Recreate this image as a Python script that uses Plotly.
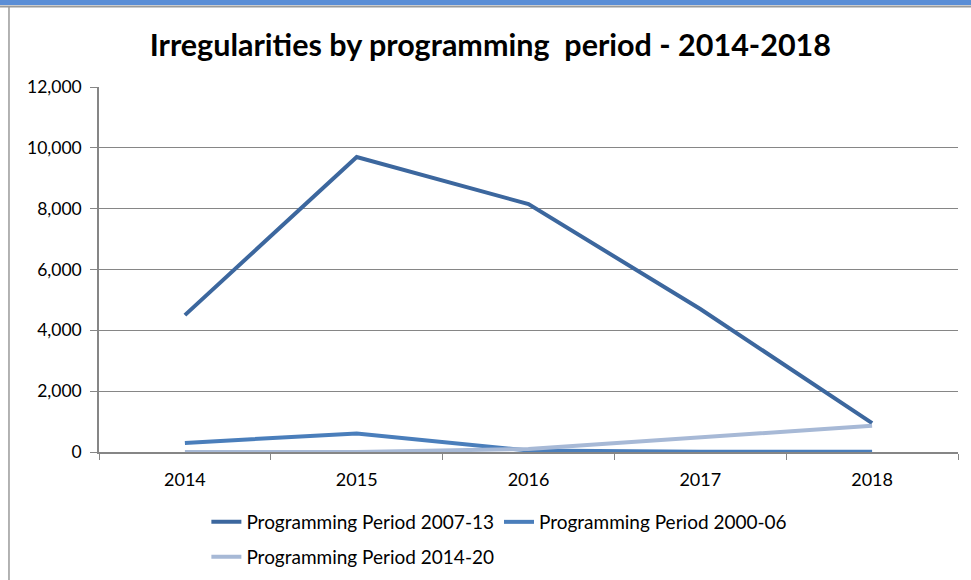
import plotly.graph_objects as go

years = ["2014", "2015", "2016", "2017", "2018"]
pp_2007_13 = [4500, 9700, 8150, 4700, 950]
pp_2000_06 = [300, 610, 50, 10, 5]
pp_2014_20 = [0, 0, 100, 470, 860]
series_names = ["Programming Period 2007-13", "Programming Period 2000-06", "Programming Period 2014-20"]
colors = ["#3C679E", "#4A7EBB", "#A7B9D6"]
y_ticks = [0, 2000, 4000, 6000, 8000, 10000, 12000]

FONT = "Lato, Open Sans, sans-serif"

fig = go.Figure()
for name, vals, col, lg in zip(series_names, [pp_2007_13, pp_2000_06, pp_2014_20], colors,
                               ["legend", "legend", "legend2"]):
    fig.add_trace(go.Scatter(x=years, y=vals, name=name, mode="lines",
                             line=dict(color=col, width=4), legend=lg))

fig.update_layout(
    width=971, height=580,
    margin=dict(l=99, r=13, t=87, b=128, autoexpand=False),
    paper_bgcolor="white", plot_bgcolor="white",
    font=dict(family=FONT, size=15, color="#000000"),
    title=dict(text="<b>Irregularities by programming  period - 2014-2018</b>",
               x=0.505, xanchor="center", y=0.922, yanchor="middle",
               font=dict(family=FONT, size=30.5, color="#000000")),
    xaxis=dict(type="category", range=[-0.5, 4.5], showgrid=False,
               showline=True, linecolor="#868686", linewidth=1.5,
               ticks="outside", tickson="boundaries", ticklen=6, tickcolor="#868686",
               ticklabelstandoff=11,
               tickfont=dict(size=18), fixedrange=True),
    yaxis=dict(range=[0, 12000], tickvals=y_ticks, tickformat=",d",
               showgrid=True, gridcolor="#868686", gridwidth=1,
               showline=True, linecolor="#868686", linewidth=1.5,
               ticks="outside", ticklen=7, tickcolor="#868686",
               ticklabelstandoff=5,
               tickfont=dict(size=17.5), zeroline=False),
    legend=dict(orientation="h", x=0.125, y=0.1, yref="container",
                xanchor="left", yanchor="middle",
                font=dict(size=19), itemwidth=30, tracegroupgap=0,
                bgcolor="rgba(0,0,0,0)"),
    legend2=dict(orientation="h", x=0.125, y=0.0397, yref="container",
                 xanchor="left", yanchor="middle",
                 font=dict(size=19), itemwidth=30, bgcolor="rgba(0,0,0,0)"),
    showlegend=True,
)

# spreadsheet header band and chart frame edges
fig.add_shape(type="rect", xref="paper", yref="paper", x0=-0.2, x1=1.1, y0=1.2247, y1=1.26,
              fillcolor="#5B8ED6", line_width=0, layer="below")
fig.add_shape(type="line", xref="paper", yref="paper", x0=-0.2, x1=1.1, y0=1.2205, y1=1.2205,
              line=dict(color="#9A9A9A", width=2))
fig.add_shape(type="line", xref="paper", yref="paper", x0=-0.1048, x1=-0.1048, y0=-0.6, y1=1.2205,
              line=dict(color="#9A9A9A", width=1.5))

fig.write_html("out.html", config={"displayModeBar": False},
               post_script="document.body.style.margin='0';")
